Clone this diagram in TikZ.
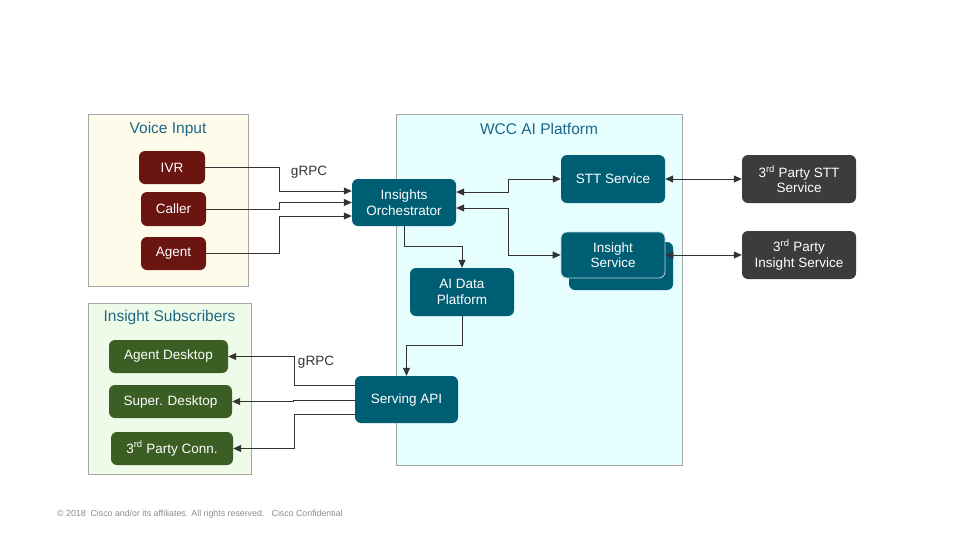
\documentclass[tikz,border=0pt]{standalone}
\usepackage{fontspec}
\setmainfont{Liberation Sans}
\usetikzlibrary{arrows.meta}

% Couleurs
\definecolor{rouge}{HTML}{6B1511}
\definecolor{sarcelle}{HTML}{005E74}
\definecolor{anthracite}{HTML}{3C3C3C}
\definecolor{vert}{HTML}{3B5E24}
\definecolor{fondjaune}{HTML}{FEFBEA}
\definecolor{fondcyan}{HTML}{E6FEFE}
\definecolor{fondvert}{HTML}{EEFBE8}
\definecolor{bordgris}{HTML}{A6A6A6}
\definecolor{titrebleu}{HTML}{1D6688}
\definecolor{trait}{HTML}{333333}

\begin{document}
\begin{tikzpicture}[x=1pt, y=-1pt,
  boite/.style={rounded corners=6pt, text=white, align=center, inner sep=0pt,
    font=\fontsize{13.5}{15.5}\selectfont},
  cadre/.style={draw=bordgris, line width=0.8pt, inner sep=0pt},
  titre/.style={text=titrebleu, font=\fontsize{15.5}{17}\selectfont},
  etiquette/.style={text=trait, font=\fontsize{13.5}{15}\selectfont},
  fleche/.style={draw=trait, line width=0.8pt, -{Triangle[length=8pt,width=7pt]}},
  flechedouble/.style={fleche, {Triangle[length=8pt,width=7pt]}-{Triangle[length=8pt,width=7pt]}}]

% Fond et cadre de la page
\useasboundingbox[fill=white] (0,0) rectangle (974,547);

% Cadres
\node[cadre, fill=fondjaune, minimum width=160pt, minimum height=172pt] (voix) at (168,200) {};
\node[cadre, fill=fondcyan, minimum width=286pt, minimum height=351pt] (wcc) at (539,289.5) {};
\node[cadre, fill=fondvert, minimum width=163pt, minimum height=171pt] (abonnes) at (169.5,388.5) {};
\node[titre] (tvoix) at (168,129) {Voice Input};
\node[titre] (twcc) at (539,129) {WCC AI Platform};
\node[titre] (tabonnes) at (169.5,317) {Insight Subscribers};

% Entrées voix
\node[boite, fill=rouge, minimum width=66pt, minimum height=33pt] (ivr) at (172,167.5) {IVR};
\node[boite, fill=rouge, minimum width=65pt, minimum height=34pt] (appelant) at (173.5,209) {Caller};
\node[boite, fill=rouge, minimum width=65pt, minimum height=33pt] (agent) at (173.5,253.5) {Agent};

% Plateforme
\node[boite, fill=sarcelle, minimum width=104pt, minimum height=47pt] (orch) at (404,202.5) {Insights\\Orchestrator};
\node[boite, fill=sarcelle, minimum width=104pt, minimum height=48pt] (stt) at (613,179) {STT Service};
\node[boite, fill=sarcelle, minimum width=104pt, minimum height=48pt] (ombre) at (621,266) {};
\node[boite, fill=sarcelle, draw=white!75!sarcelle, line width=0.8pt, minimum width=104pt, minimum height=46pt] (insight) at (613,255) {Insight\\Service};
\node[boite, fill=sarcelle, minimum width=104pt, minimum height=48pt] (donnees) at (462,292) {AI Data\\Platform};
\node[boite, fill=sarcelle, minimum width=103pt, minimum height=47pt] (api) at (406.5,399.5) {Serving API};

% Tiers
\node[boite, fill=anthracite, minimum width=114pt, minimum height=48pt] (stttiers) at (799,179) {3\textsuperscript{rd} Party STT\\Service};
\node[boite, fill=anthracite, minimum width=114pt, minimum height=48pt] (insighttiers) at (799,255) {3\textsuperscript{rd} Party\\Insight Service};

% Abonnés
\node[boite, fill=vert, minimum width=119pt, minimum height=33pt] (bureau) at (168.5,356.5) {Agent Desktop};
\node[boite, fill=vert, minimum width=123pt, minimum height=33pt] (superviseur) at (170.5,401.5) {Super. Desktop};
\node[boite, fill=vert, minimum width=122pt, minimum height=33pt] (connecteur) at (172,448.5) {3\textsuperscript{rd} Party Conn.};

% Liaisons entrantes
\draw[fleche] (ivr.east) -- ++(74,0) |- ([yshift=11.5pt]orch.west);
\draw[fleche] (appelant.east) -- ++(73,0) |- (orch.west);
\draw[fleche] (agent.east) -- ++(73,0) |- ([yshift=-13.5pt]orch.west);
\node[etiquette] (grpc1) at (309,172) {gRPC};

% Liaisons internes
\draw[flechedouble] ([yshift=10.5pt]orch.east) -- ++(52,0) |- (stt.west);
\draw[flechedouble] ([yshift=-5.5pt]orch.east) -- ++(52,0) |- (insight.west);
\draw[fleche] (orch.south) -- ++(0,20) -| (donnees.north);
\draw[fleche] (donnees.south) -- ++(0,29) -| (api.north);
\draw[flechedouble] (stt.east) -- (stttiers.west);
\draw[flechedouble] (insight.east) -- (insighttiers.west);

% Liaisons sortantes
\draw[fleche] ([yshift=14pt]api.west) -- ++(-60,0) |- (bureau.east);
\draw[fleche] ([yshift=-1pt]api.west) -- ++(-61,0) |- (superviseur.east);
\draw[fleche] ([yshift=-15pt]api.west) -- ++(-60,0) |- (connecteur.east);
\node[etiquette] (grpc2) at (316,362) {gRPC};

% Pied de page
\node[anchor=west, text=black!45, font=\fontsize{8.8}{10}\selectfont, inner sep=0pt] (pied) at (57,514)
  {\textcopyright{} 2018\ \ Cisco and/or its affiliates. All rights reserved.\ \ \ Cisco Confidential};
\end{tikzpicture}
\end{document}
